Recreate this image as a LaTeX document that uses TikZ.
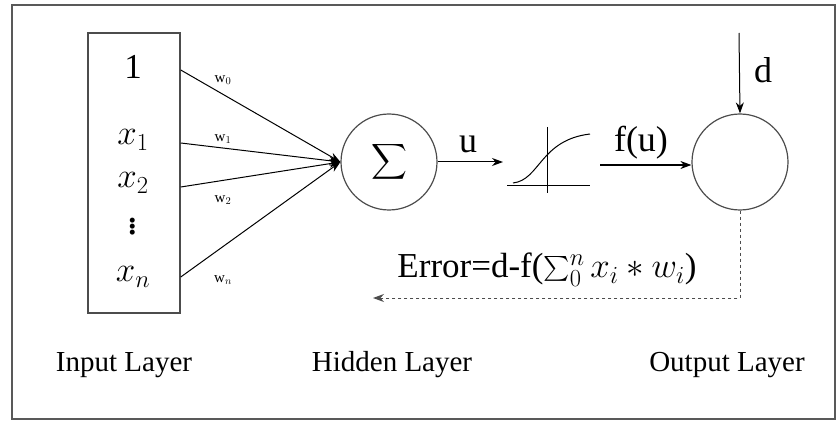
\RequirePackage{fix-cm}
\documentclass[tikz,border=0pt]{standalone}
\usepackage{exscale}
\usepackage{fontspec}
\setmainfont{Liberation Serif}
\usetikzlibrary{arrows.meta}
\tikzset{
  lbl/.style={font=\fontsize{29}{29}\selectfont},
  midl/.style={font=\fontsize{36}{36}\selectfont},
  bigl/.style={font=\fontsize{35}{35}\selectfont},
  wt/.style={font=\fontsize{15}{15}\selectfont},
  unit/.style={draw=black!70, line width=1.2pt, circle, minimum size=96pt, inner sep=0pt}
}
\begin{document}
\begin{tikzpicture}[x=1pt, y=-1pt, >={Stealth[length=11pt, width=8pt]}]
\useasboundingbox (0,0) rectangle (839,425);
\draw[black!65, line width=2pt] (12,5) rectangle (835,419);
\node[draw=black!70, line width=1.5pt, minimum width=92pt, minimum height=280pt, inner sep=0pt] (inp) at (134,173) {};
\node[bigl] (one) at (133,67) {1};
\node[bigl] (x1) at (133,140) {$x_1$};
\node[bigl] (x2) at (133,183) {$x_2$};
\node[font=\fontsize{42}{42}\selectfont] (dots) at (133,224) {$\vdots$};
\node[bigl] (xn) at (133,277) {$x_n$};
\node[unit, font=\fontsize{34}{34}\selectfont] (sum) at (389,162) {$\displaystyle\sum$};
\node[unit] (out) at (740,162) {};
\draw[->, line width=1pt] (inp.east |- 0,70) -- (sum.west);
\draw[->, line width=1pt] (inp.east |- 0,143) -- (sum.west);
\draw[->, line width=1pt] (inp.east |- 0,187) -- (sum.west);
\draw[->, line width=1pt] (inp.east |- 0,277) -- (sum.west);
\node[wt] (w0) at (223,80) {w$_0$};
\node[wt] (w1) at (223,139) {w$_1$};
\node[wt] (w2) at (223,200) {w$_2$};
\node[wt] (wn) at (223,280) {w$_n$};
% activation
\coordinate (act) at (548,162);
\draw[line width=1pt] (507,186) -- (590,186);
\draw[line width=1pt] (547,127) -- (547,193);
\draw[line width=1pt] (513,183) .. controls (540,180) and (540,140) .. (590,134);
\draw[->, line width=1pt] (sum.east) -- (503,162);
\node[midl] (u) at (468,144) {u};
\draw[->, line width=1.2pt] (600,165) -- (out.west |- 0,165);
\node[midl] (fu) at (641,143) {f(u)};
\coordinate (dtop) at (739,33);
\draw[->, line width=1pt] (dtop) -- (out.north);
\node[midl] (d) at (763,70) {d};
\coordinate (err) at (373,298);
\draw[->, dashed, black!70, line width=1pt] (out.south) -- (out.south |- err) -- (err);
\node[font=\fontsize{35}{35}\selectfont] (etext) at (547,270) {Error=d-f($\sum_0^n x_i \ast w_i$)};
\node[lbl] (il) at (124,365) {Input Layer};
\node[lbl] (hl) at (392,365) {Hidden Layer};
\node[lbl] (ol) at (727,365) {Output Layer};
\end{tikzpicture}
\end{document}
